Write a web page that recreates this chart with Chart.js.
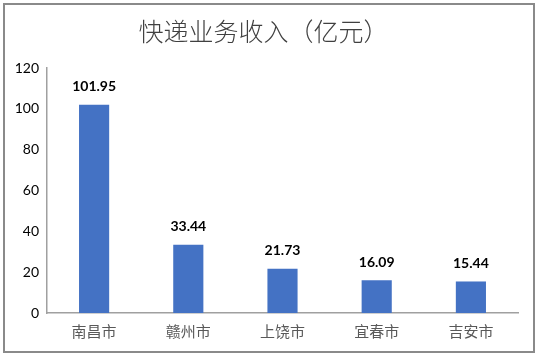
<!DOCTYPE html>
<html>
<head>
<meta charset="utf-8">
<script src="https://cdn.jsdelivr.net/npm/chart.js@4"></script>
<style>
  html, body { margin: 0; padding: 0; background: #fff; }
  #wrap { position: relative; width: 540px; height: 357px; }
  #frame { position: absolute; left: 3px; top: 3px; width: 528px; height: 346px; border: 2px solid #8a8a8a; pointer-events: none; }
  canvas { position: absolute; left: 0; top: 0; }
</style>
</head>
<body>
<div id="wrap">
  <canvas id="c" width="540" height="357"></canvas>
  <div id="frame"></div>
</div>
<script>
const titleText = '快递业务收入（亿元）';
const categories = ['南昌市', '赣州市', '上饶市', '宜春市', '吉安市'];
const values = [101.95, 33.44, 21.73, 16.09, 15.44];
const yTicks = [0, 20, 40, 60, 80, 100, 120];

const numFont = "Lato, 'Liberation Sans', sans-serif";
const cjkFont = "'Noto Sans CJK SC', sans-serif";

const valueLabels = {
  id: 'valueLabels',
  afterDatasetsDraw(chart) {
    const ctx = chart.ctx;
    const meta = chart.getDatasetMeta(0);
    ctx.save();
    ctx.font = "bold 14px " + numFont;
    ctx.fillStyle = '#000000';
    ctx.textAlign = 'center';
    ctx.textBaseline = 'middle';
    meta.data.forEach((bar, i) => {
      ctx.fillText(values[i].toFixed(2), bar.x, bar.y - 18);
    });
    ctx.restore();
  }
};

new Chart(document.getElementById('c'), {
  type: 'bar',
  data: {
    labels: categories,
    datasets: [{
      data: values,
      backgroundColor: '#4472C4',
      borderWidth: 0,
      categoryPercentage: 1,
      barPercentage: 0.32
    }]
  },
  options: {
    responsive: false,
    animation: false,
    events: [],
    layout: { padding: { left: 9, right: 22, top: 0, bottom: 0 } },
    plugins: {
      legend: { display: false },
      tooltip: { enabled: false },
      title: {
        display: true,
        text: titleText,
        color: '#404040',
        font: { family: cjkFont, size: 25, weight: 300, lineHeight: 1.2 },
        padding: { top: 16, bottom: 22 }
      }
    },
    scales: {
      x: {
        grid: { display: false, drawTicks: false },
        border: { display: true, color: '#a0a0a0', width: 1.5 },
        ticks: {
          color: '#595959',
          font: { family: cjkFont, size: 15 },
          padding: 9,
          maxRotation: 0
        },
        afterFit(s) { s.height = 44; }
      },
      y: {
        min: 0,
        max: 120,
        afterBuildTicks(s) { s.ticks = yTicks.map(v => ({ value: v })); },
        grid: { display: false, drawTicks: false },
        border: { display: true, color: '#a0a0a0', width: 1.5 },
        ticks: {
          color: '#000000',
          font: { family: numFont, size: 14 },
          padding: 8
        },
        afterFit(s) { s.width = 38; }
      }
    }
  },
  plugins: [valueLabels]
});
</script>
</body>
</html>
